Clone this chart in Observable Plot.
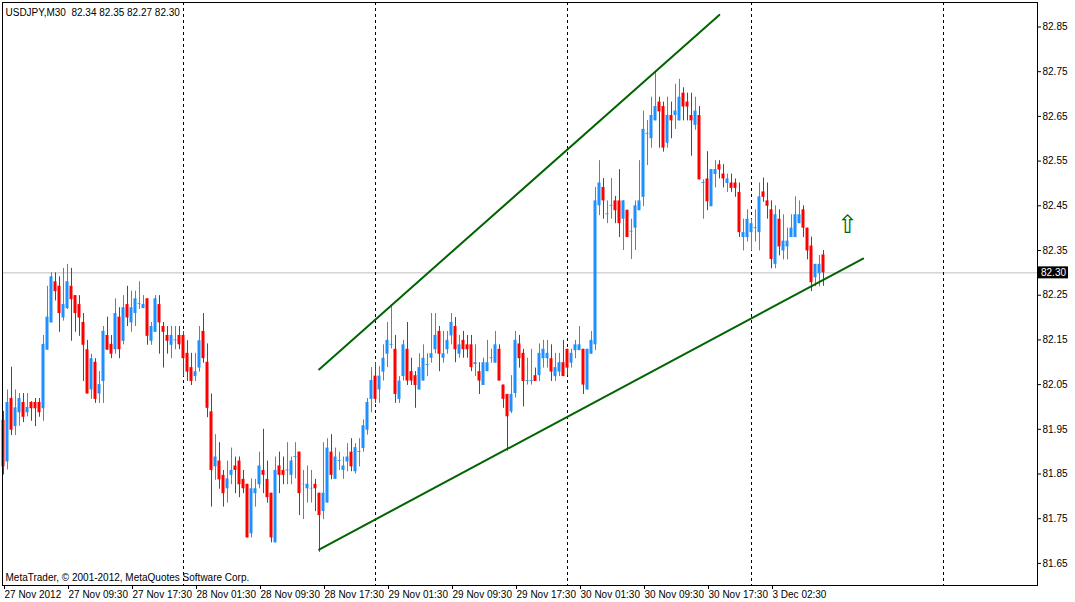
<!DOCTYPE html>
<html>
<head>
<meta charset="utf-8">
<script src="https://cdn.jsdelivr.net/npm/d3@7"></script>
<script src="https://cdn.jsdelivr.net/npm/@observablehq/plot@0.6"></script>
<style>
  html, body { margin: 0; padding: 0; background: #fff; overflow: hidden; }
  svg { display: block; }
</style>
</head>
<body>
<script>
// USDJPY M30 candles, bar 0 = 27 Nov 2012 01:30
const open = [
81.970,81.877,82.019,81.956,81.987,82.010,81.987,82.010,82.010,82.010,
81.996,82.127,82.188,82.280,82.270,82.199,82.220,82.270,82.249,82.229,
82.189,82.128,82.038,82.100,82.029,82.057,82.160,82.140,82.128,82.201,
82.147,82.229,82.188,82.209,82.229,82.220,82.242,82.147,82.167,82.229,
82.180,82.160,82.138,82.148,82.160,82.160,82.120,82.088,82.068,82.087,
82.169,82.100,81.989,81.866,81.879,81.847,81.817,81.847,81.868,81.879,
81.838,81.827,81.716,81.806,81.826,81.858,81.838,81.807,81.696,81.868,
81.858,81.857,81.847,81.887,81.899,81.826,81.817,81.816,81.827,81.807,
81.766,81.785,81.899,81.838,81.878,81.858,81.877,81.899,81.855,81.898,
81.907,81.948,82.017,82.069,82.038,82.078,82.118,82.138,82.129,82.017,
82.068,82.129,82.079,82.070,82.038,82.058,82.093,82.109,82.128,82.169,
82.109,82.128,82.159,82.180,82.118,82.149,82.139,82.139,82.095,82.079,
82.048,82.079,82.108,82.098,82.129,82.049,82.028,81.989,82.030,82.141,
82.120,82.057,82.057,82.070,82.070,82.108,82.108,82.108,82.068,82.078,
82.099,82.129,82.098,82.126,82.126,82.129,82.038,82.118,82.139,82.450,
82.491,82.430,82.449,82.461,82.461,82.420,82.440,82.391,82.400,82.439,
82.469,82.610,82.600,82.640,82.682,82.672,82.590,82.652,82.652,82.640,
82.702,82.682,82.652,82.630,82.652,82.500,82.510,82.448,82.520,82.542,
82.521,82.500,82.501,82.501,82.480,82.379,82.379,82.390,82.399,82.390,
82.481,82.461,82.441,82.319,82.420,82.349,82.358,82.379,82.379,82.410,
82.441,82.400,82.360,82.289,82.298,82.340
];
const high = [
81.990,82.038,82.089,82.038,82.030,82.030,82.030,82.012,82.019,82.019,
82.160,82.270,82.300,82.300,82.291,82.310,82.319,82.310,82.249,82.249,
82.209,82.149,82.118,82.108,82.079,82.180,82.201,82.160,82.242,82.222,
82.249,82.270,82.259,82.259,82.280,82.249,82.242,82.189,82.249,82.249,
82.189,82.180,82.180,82.180,82.180,82.169,82.148,82.120,82.120,82.180,
82.209,82.141,82.029,81.938,81.920,81.858,81.879,81.908,81.888,81.888,
81.858,81.827,81.839,81.838,81.899,81.950,81.879,81.807,81.888,81.899,
81.888,81.920,81.888,81.920,81.899,81.858,81.868,81.858,81.838,81.807,
81.920,81.929,81.938,81.908,81.899,81.888,81.918,81.929,81.918,81.929,
81.971,82.019,82.088,82.099,82.090,82.139,82.189,82.229,82.160,82.068,
82.149,82.189,82.109,82.079,82.119,82.139,82.119,82.209,82.209,82.180,
82.169,82.169,82.209,82.200,82.160,82.169,82.160,82.160,82.139,82.099,
82.109,82.149,82.129,82.169,82.139,82.049,82.028,82.070,82.169,82.160,
82.129,82.109,82.129,82.087,82.141,82.149,82.149,82.139,82.120,82.120,
82.149,82.129,82.129,82.149,82.180,82.129,82.129,82.169,82.491,82.551,
82.511,82.461,82.511,82.471,82.531,82.461,82.440,82.420,82.461,82.551,
82.662,82.641,82.693,82.752,82.693,82.682,82.693,82.682,82.722,82.733,
82.714,82.702,82.702,82.693,82.672,82.508,82.571,82.531,82.551,82.551,
82.542,82.521,82.521,82.510,82.501,82.420,82.441,82.420,82.441,82.501,
82.512,82.501,82.461,82.450,82.441,82.430,82.400,82.430,82.470,82.461,
82.450,82.400,82.380,82.319,82.339,82.350
];
const low = [
81.848,81.859,81.936,81.936,81.957,81.965,81.978,81.968,81.956,81.977,
81.968,82.127,82.188,82.237,82.167,82.192,82.218,82.147,82.167,82.158,
82.057,82.029,82.017,82.008,82.008,82.008,82.127,82.108,82.118,82.108,
82.139,82.180,82.167,82.180,82.218,82.220,82.138,82.138,82.167,82.118,
82.087,82.118,82.108,82.128,82.128,82.068,82.057,82.048,82.057,82.078,
82.098,81.976,81.776,81.836,81.816,81.776,81.785,81.826,81.806,81.797,
81.806,81.707,81.707,81.776,81.817,81.806,81.785,81.696,81.696,81.806,
81.826,81.826,81.826,81.839,81.757,81.748,81.785,81.785,81.766,81.675,
81.748,81.785,81.837,81.838,81.858,81.838,81.855,81.855,81.850,81.866,
81.899,81.937,81.987,82.008,82.008,82.058,82.088,82.130,82.008,82.008,
82.058,82.048,82.048,81.997,82.038,82.058,82.068,82.098,82.119,82.079,
82.098,82.118,82.139,82.099,82.109,82.109,82.109,82.079,82.068,82.028,
82.048,82.079,82.098,82.098,82.058,81.997,81.901,81.985,82.020,82.087,
82.000,82.049,82.049,82.057,82.057,82.087,82.087,82.057,82.057,82.068,
82.068,82.070,82.087,82.108,82.126,82.028,82.038,82.118,82.126,82.428,
82.420,82.410,82.420,82.410,82.379,82.350,82.379,82.330,82.350,82.439,
82.448,82.540,82.579,82.640,82.579,82.570,82.579,82.600,82.621,82.640,
82.640,82.640,82.561,82.619,82.508,82.420,82.439,82.448,82.490,82.510,
82.490,82.480,82.480,82.469,82.379,82.349,82.369,82.349,82.369,82.349,
82.458,82.420,82.309,82.309,82.338,82.329,82.329,82.379,82.379,82.410,
82.379,82.329,82.258,82.269,82.269,82.270
];
const close = [
81.866,82.010,81.948,81.998,82.019,81.977,81.999,81.996,81.996,81.987,
82.140,82.201,82.291,82.258,82.209,82.229,82.280,82.240,82.209,82.199,
82.138,82.029,82.108,82.017,82.050,82.169,82.127,82.118,82.209,82.128,
82.222,82.199,82.222,82.242,82.231,82.229,82.158,82.180,82.242,82.188,
82.167,82.147,82.160,82.150,82.139,82.108,82.078,82.057,82.079,82.148,
82.108,81.997,81.858,81.888,81.837,81.806,81.839,81.858,81.858,81.826,
81.817,81.707,81.817,81.817,81.868,81.847,81.797,81.707,81.858,81.847,
81.847,81.859,81.879,81.889,81.806,81.827,81.827,81.817,81.817,81.757,
81.807,81.908,81.847,81.888,81.880,81.868,81.888,81.866,81.909,81.900,
81.958,82.010,82.059,82.017,82.069,82.109,82.149,82.140,82.028,82.058,
82.139,82.058,82.058,82.048,82.088,82.109,82.095,82.119,82.160,82.118,
82.119,82.149,82.189,82.128,82.139,82.128,82.128,82.088,82.099,82.058,
82.099,82.099,82.110,82.139,82.058,82.017,81.978,82.028,82.149,82.108,
82.057,82.059,82.059,82.057,82.120,82.129,82.120,82.078,82.088,82.099,
82.068,82.087,82.120,82.139,82.139,82.049,82.129,82.149,82.461,82.501,
82.461,82.432,82.451,82.439,82.410,82.461,82.379,82.393,82.450,82.461,
82.621,82.612,82.652,82.672,82.660,82.579,82.652,82.640,82.662,82.693,
82.671,82.671,82.640,82.662,82.508,82.502,82.459,82.531,82.531,82.530,
82.510,82.510,82.489,82.489,82.390,82.390,82.420,82.410,82.401,82.470,
82.469,82.449,82.330,82.430,82.358,82.371,82.371,82.400,82.430,82.430,
82.400,82.349,82.278,82.319,82.319,82.300
];

const symbolTitle = "USDJPY,M30\u00a0\u00a082.34 82.35 82.27 82.30";
const copyright = "MetaTrader, © 2001-2012, MetaQuotes Software Corp.";

const priceTicks = [81.65,81.75,81.85,81.95,82.05,82.15,82.25,82.35,82.45,82.55,82.65,82.75,82.85];
const timeTickBars = [0,16,32,48,64,80,96,112,128,144,160,176,192];
const timeTickLabels = ["27 Nov 2012","27 Nov 09:30","27 Nov 17:30","28 Nov 01:30","28 Nov 09:30",
  "28 Nov 17:30","29 Nov 01:30","29 Nov 09:30","29 Nov 17:30","30 Nov 01:30","30 Nov 09:30",
  "30 Nov 17:30","3 Dec 02:30"];
const daySeparatorBars = [45, 93, 141, 187, 235];

const currentPrice = 82.30;

// trend lines drawn by the trader (bar index, price)
const upperTrendBars = [78.9, 178.95];
const upperTrendPrices = [82.084, 82.877];
const lowerTrendBars = [78.9, 214.9];
const lowerTrendPrices = [81.681, 82.332];

const arrowBar = 211;
const arrowPrice = 82.406;

const xDomain = [-0.25, 258.5];
const yDomain = [81.6006, 82.9048];

const BULL = "#1E90FF", BEAR = "#FF0000", TREND = "#006400";

const bars = open.map((o, i) => ({i, o, h: high[i], l: low[i], c: close[i],
  col: close[i] >= o ? BULL : BEAR}));
const upper = upperTrendBars.map((b, k) => ({b, p: upperTrendPrices[k]}));
const lower = lowerTrendBars.map((b, k) => ({b, p: lowerTrendPrices[k]}));

const FONT = "'Liberation Sans', Arial, sans-serif";

const plot = Plot.plot({
  width: 1075,
  height: 602,
  marginLeft: 2,
  marginRight: 38,
  marginTop: 2,
  marginBottom: 17,
  style: {fontFamily: FONT, fontSize: "10px", background: "#fff", color: "#000"},
  x: {type: "linear", domain: xDomain},
  y: {type: "linear", domain: yDomain},
  color: {type: "identity"},
  marks: [
    Plot.ruleY([currentPrice], {stroke: "#C0C0C0", strokeWidth: 1}),
    Plot.ruleX(daySeparatorBars, {x: d => d, stroke: "#000", strokeWidth: 1, strokeDasharray: "3,3"}),
    Plot.ruleX(bars, {x: "i", y1: "l", y2: "h", stroke: "col", strokeWidth: 1}),
    Plot.rect(bars, {x1: d => d.i - 0.375, x2: d => d.i + 0.375, y1: "o", y2: "c", fill: "col"}),
    Plot.line(upper, {x: "b", y: "p", stroke: TREND, strokeWidth: 2}),
    Plot.line(lower, {x: "b", y: "p", stroke: TREND, strokeWidth: 2}),
    Plot.text([{b: arrowBar, p: arrowPrice}], {x: "b", y: "p", text: () => "\u21E7",
      fill: TREND, fontSize: 25, fontFamily: "DejaVu Sans"}),
    Plot.frame({stroke: "#000", strokeWidth: 1}),
    Plot.text([symbolTitle], {frameAnchor: "top-left", textAnchor: "start", lineAnchor: "top",
      dx: 3, dy: 6, fill: "#000", fontSize: 10}),
    Plot.text([copyright], {frameAnchor: "bottom-left", textAnchor: "start", lineAnchor: "bottom",
      dx: 3, dy: -5, fill: "#000", fontSize: 10}),
    Plot.axisY(priceTicks, {anchor: "right", tickSize: 3, tickPadding: 2,
      tickFormat: d => d.toFixed(2), fontSize: 10}),
    Plot.axisX(timeTickBars, {anchor: "bottom", tickSize: 4, tickPadding: 1,
      tickFormat: d => timeTickLabels[timeTickBars.indexOf(d)], textAnchor: "start", dx: 1, fontSize: 10})
  ]
});

document.body.appendChild(plot);

// current price marker on the right axis, positioned via the plot's own scales
const ys = plot.scale("y"), xs = plot.scale("x");
const yCur = ys.apply(currentPrice);
const xRight = xs.range[1];
const g = d3.select(plot).append("g").attr("text-anchor", "start");
g.append("rect").attr("x", xRight + 1).attr("y", yCur - 6).attr("width", 30).attr("height", 12).attr("fill", "#000");
g.append("text").attr("x", xRight + 4).attr("y", yCur).attr("dy", "0.35em").attr("text-anchor", "start")
  .attr("fill", "#fff").attr("font-family", FONT).attr("font-size", 10).text(currentPrice.toFixed(2));
</script>
</body>
</html>
